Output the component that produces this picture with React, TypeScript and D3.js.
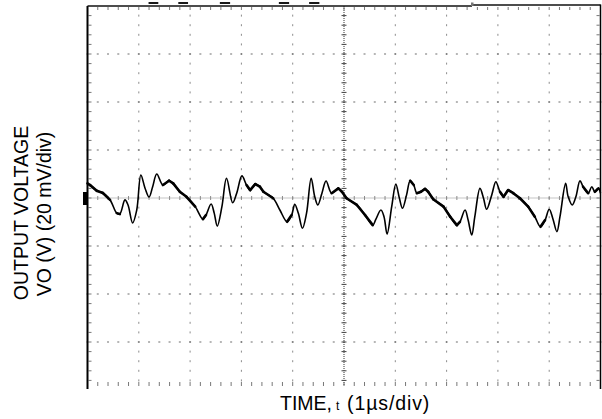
import React from "react";
import * as d3 from "d3";

// Output ripple trace: time in µs, voltage in mV (AC-coupled, 20 mV/div)
const timeUs: number[] = [
  0.0, 0.05, 0.18, 0.3, 0.44, 0.57, 0.63, 0.73, 0.79, 0.88, 0.96, 1.04, 1.12, 1.2, 1.27, 1.35,
  1.47, 1.59, 1.67, 1.8, 1.93, 2.1, 2.25, 2.31, 2.41, 2.47, 2.53, 2.62, 2.71, 2.83, 2.91, 3.01,
  3.1, 3.17, 3.27, 3.36, 3.43, 3.62, 3.75, 3.89, 3.98, 4.04, 4.11, 4.19, 4.27, 4.36, 4.43, 4.49,
  4.57, 4.65, 4.76, 4.89, 4.96, 5.05, 5.25, 5.41, 5.56, 5.62, 5.72, 5.78, 5.84, 5.93, 6.01, 6.08,
  6.14, 6.22, 6.29, 6.36, 6.42, 6.5, 6.58, 6.64, 6.74, 6.94, 7.07, 7.2, 7.26, 7.36, 7.42, 7.49,
  7.55, 7.65, 7.72, 7.78, 7.88, 7.96, 8.04, 8.11, 8.2, 8.3, 8.43, 8.59, 8.72, 8.83, 8.92, 9.0,
  9.07, 9.15, 9.21, 9.32, 9.37, 9.45, 9.52, 9.6, 9.66, 9.76, 9.83, 9.89, 9.96, 10.0,
];
const voutMv: number[] = [
  6.1, 5.4, 3.0, 2.1, -0.8, -6.3, -6.7, -0.8, -2.9, -10.4, -5.0, 9.6, 4.2, 0.4, 4.7, 10.0,
  5.4, 7.2, 6.1, 2.6, 0.5, -3.6, -8.8, -7.1, -2.5, -6.3, -11.7, -3.6, 8.2, -2.0, 2.1, 9.2,
  5.4, 3.3, 5.8, 4.7, 2.6, -0.1, -5.0, -9.9, -7.1, -2.6, -6.4, -12.6, -6.3, 8.2, 0.5, -2.9,
  2.0, 7.1, 2.0, 4.0, 2.6, -0.1, -2.9, -7.1, -11.3, -8.9, -5.0, -7.8, -15.0, -3.6, 5.8, -0.1,
  -4.3, 1.3, 7.2, 5.4, 2.0, 2.6, 3.8, 2.6, -0.5, -3.6, -7.8, -11.3, -9.9, -5.0, -9.2, -15.4,
  -7.8, 4.0, -0.1, -4.7, 1.3, 6.8, 2.6, 0.5, 3.3, 2.0, -0.1, -3.6, -7.8, -12.0, -9.2, -4.7,
  -8.5, -14.0, -7.8, 6.1, 0.5, -2.9, 0.5, 7.2, 4.7, 2.0, 4.7, 2.6, 4.0, 2.0,
];

// Screen divisions
const timeDivs: number[] = d3.range(0, 11); // 1 µs/div
const voltDivs: number[] = d3.range(-80, 81, 20); // 20 mV/div
const timeMinor: number[] = d3.range(0, 10.001, 0.2);
const voltMinor: number[] = d3.range(-80, 80.001, 4);

// Short marks along the top of the screen (clipped readout)
const topMarks: [number, number][] = [
  [1.19, 1.38],
  [1.77, 1.96],
  [2.58, 2.78],
  [3.73, 3.93],
  [4.32, 4.52],
];

const xLabel = "TIME,";
const xLabelSub = "t";
const xLabelUnit = "(1\u00b5s/div)";
const yLabel1 = "OUTPUT VOLTAGE";
const yLabel2 = "VO (V) (20 mV/div)";

const W = 602;
const H = 419;
const FONT = "'Liberation Sans', Arial, Helvetica, sans-serif";

export default function App() {
  const x = d3.scaleLinear().domain([0, 10]).range([87.5, 600.5]);
  const y = d3.scaleLinear().domain([-80, 80]).range([390, 6]);
  const bottomTickY = 382;

  const gridV = timeDivs.filter((t) => t > 0 && t < 10 && t !== 5);
  const gridH = voltDivs.filter((v) => v > -80 && v < 80 && v !== 0);
  const innerV = voltMinor.filter((v) => v > -80 && v < 80 && y(v) < bottomTickY + 4);

  const pts = timeUs.map((t, i) => [x(t), y(voutMv[i])] as [number, number]);
  const trace = d3.line().curve(d3.curveCatmullRom.alpha(0.5))(pts) ?? "";
  // slow-moving stretches of the trace glow brighter on the scope
  const slowSegs = pts
    .slice(1)
    .map((p, i) => ({ a: pts[i], b: p }))
    .filter(({ a, b }) => Math.abs((b[1] - a[1]) / Math.max(0.1, b[0] - a[0])) < 1.6);

  return (
    <svg
      width={W}
      height={H}
      viewBox={`0 0 ${W} ${H}`}
      style={{ position: "fixed", left: 0, top: 0, background: "#fff" }}
    >
      <rect x={0} y={0} width={W} height={H} fill="#fff" />

      {/* dotted major grid: vertical */}
      {gridV.map((t) =>
        innerV.map((v) => (
          <rect key={`gv${t}_${v}`} x={x(t) - 0.5} y={y(v) - 1} width={1} height={2} fill="#8c8c8c" />
        ))
      )}
      {/* dotted major grid: horizontal */}
      {gridH.map((v) =>
        timeMinor.map((t) => (
          <rect key={`gh${t}_${v}`} x={x(t) - 1} y={y(v) - 0.5} width={2} height={1} fill="#6e6e6e" />
        ))
      )}

      {/* centre graticule lines with minor ticks */}
      <line x1={x(0)} x2={x(10)} y1={y(0)} y2={y(0)} stroke="#8a8a8a" strokeWidth={1} strokeDasharray="1 1" />
      {timeMinor.map((t) => (
        <line key={`ch${t}`} x1={x(t)} x2={x(t)} y1={y(0) - 2} y2={y(0) + 2} stroke="#8a8a8a" strokeWidth={1} />
      ))}
      <line x1={x(5)} x2={x(5)} y1={y(80)} y2={bottomTickY + 4} stroke="#333" strokeWidth={1} strokeDasharray="1 1" />
      {innerV.map((v) => (
        <line key={`cv${v}`} x1={x(5) - 2.5} x2={x(5) + 2.5} y1={y(v)} y2={y(v)} stroke="#444" strokeWidth={1} />
      ))}

      {/* edge ticks */}
      {timeMinor.map((t) => (
        <g key={`et${t}`}>
          <line x1={x(t)} x2={x(t)} y1={y(80) + 1} y2={y(80) + 4} stroke="#777" strokeWidth={1} />
          <line x1={x(t)} x2={x(t)} y1={bottomTickY} y2={bottomTickY + 4} stroke="#777" strokeWidth={1} />
        </g>
      ))}
      {innerV.map((v) => (
        <g key={`el${v}`}>
          <line x1={x(0) + 1} x2={x(0) + 4} y1={y(v)} y2={y(v)} stroke="#777" strokeWidth={1} />
          <line x1={x(10) - 4} x2={x(10) - 1} y1={y(v)} y2={y(v)} stroke="#777" strokeWidth={1} />
        </g>
      ))}

      {/* screen frame */}
      <line x1={x(0)} x2={x(0)} y1={y(80)} y2={389} stroke="#000" strokeWidth={2} />
      <line x1={x(0)} x2={472} y1={y(80)} y2={y(80)} stroke="#111" strokeWidth={1.5} />
      <line x1={472} x2={x(10)} y1={y(80) - 1} y2={y(80) - 1} stroke="#111" strokeWidth={1.5} />
      <rect x={471} y={2.5} width={2.5} height={3.5} fill="#777" />
      <line x1={x(10)} x2={x(10)} y1={y(80) - 1.5} y2={389} stroke="#000" strokeWidth={1.5} />

      {topMarks.map(([a, b], i) => (
        <line key={`tm${i}`} x1={x(a)} x2={x(b)} y1={3} y2={3} stroke="#000" strokeWidth={1.8} />
      ))}

      {/* ground reference marker */}
      <rect x={x(0) - 4.5} y={y(0) - 6} width={4.5} height={13} fill="#000" />

      {/* trace */}
      <path d={trace} fill="none" stroke="#000" strokeWidth={1.6} strokeLinejoin="round" />
      <g strokeLinecap="round" stroke="#000">
        {slowSegs.map((s, i) => (
          <line key={`s${i}`} x1={s.a[0]} y1={s.a[1]} x2={s.b[0]} y2={s.b[1]} strokeWidth={2.6} />
        ))}
      </g>

      {/* axis titles */}
      <text y={410} fontFamily={FONT} fontSize={19.5} fill="#000">
        <tspan x={280}>{xLabel}</tspan>
        <tspan x={336} fontSize={12}>{xLabelSub}</tspan>
        <tspan x={347} letterSpacing={0.9}>{xLabelUnit}</tspan>
      </text>
      <text
        transform="translate(28,213) rotate(-90)"
        textAnchor="middle"
        fontFamily={FONT}
        fontSize={19.5}
        fill="#000"
      >
        {yLabel1}
      </text>
      <text
        transform="translate(51,214) rotate(-90)"
        textAnchor="middle"
        fontFamily={FONT}
        fontSize={19.5}
        fill="#000"
      >
        {yLabel2}
      </text>
    </svg>
  );
}
